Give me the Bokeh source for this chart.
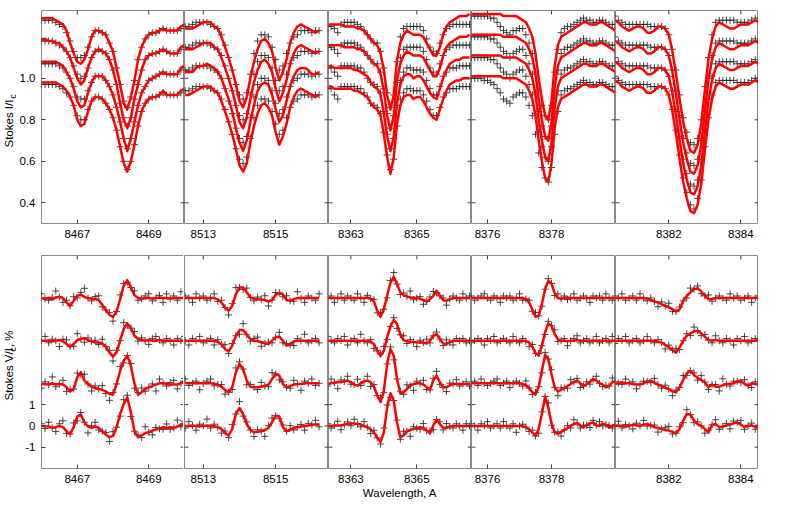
import numpy as np
from bokeh.plotting import figure
from bokeh.models import Range1d, FixedTicker, LinearAxis
from bokeh.core.properties import value
from bokeh.layouts import gridplot
from bokeh.embed import file_html
from bokeh.resources import INLINE

# ---------------- data (index 0 = lowest profile in each panel) ----------------
WL_START = [8466.0, 8512.5, 8362.3, 8375.5, 8380.5]
WL_STEP = 0.1
X_RANGES = [(8466.0, 8470.0), (8512.48, 8516.46), (8362.32, 8366.66), (8375.5, 8380.0), (8380.52, 8384.49)]
X_TICKS = [[8467, 8469], [8513, 8515], [8363, 8365], [8376, 8378], [8382, 8384]]
I_TICKS = [0.4, 0.6, 0.8, 1.0]
I_TICK_LABELS = {0.4: "0.4", 0.6: "0.6", 0.8: "0.8", 1.0: "1.0"}
V_TICKS = [-1, 0, 1]
V_TICK_LABELS = {-1: "-1", 0: "0", 1: "1"}
V_OFFSET = [0, 2, 4, 6]

I_MODEL_1 = [
 [0.98,0.98,0.98,0.98,0.98,0.97,0.96,0.94,0.91,0.87,0.80,0.77,0.78,0.84,0.89,0.91,0.91,0.90,0.88,0.85,0.81,0.75,0.67,0.59,0.55,0.60,0.68,0.77,0.84,0.88,0.90,0.91,0.91,0.92,0.94,0.92,0.92,0.92,0.92,0.94,0.95],
 [1.08,1.08,1.08,1.08,1.08,1.07,1.06,1.03,1.00,0.95,0.89,0.86,0.87,0.93,0.98,1.01,1.01,1.01,0.99,0.96,0.92,0.86,0.79,0.71,0.65,0.71,0.79,0.87,0.93,0.96,0.99,1.00,1.01,1.02,1.03,1.02,1.02,1.02,1.02,1.05,1.06],
 [1.19,1.19,1.18,1.18,1.17,1.17,1.15,1.13,1.10,1.05,1.00,0.97,0.99,1.05,1.10,1.13,1.14,1.13,1.12,1.09,1.04,0.97,0.88,0.80,0.76,0.81,0.90,0.97,1.04,1.09,1.11,1.12,1.12,1.13,1.14,1.13,1.12,1.12,1.12,1.15,1.16],
 [1.29,1.29,1.29,1.29,1.28,1.27,1.26,1.23,1.17,1.12,1.08,1.07,1.09,1.14,1.20,1.23,1.23,1.22,1.21,1.17,1.13,1.05,0.97,0.88,0.85,0.91,0.99,1.09,1.15,1.19,1.21,1.22,1.22,1.23,1.24,1.23,1.23,1.23,1.23,1.25,1.26]]
I_OBS_1 = [
 [0.97,0.97,0.97,0.97,0.97,0.96,0.95,0.93,0.91,0.87,0.82,0.80,0.80,0.85,0.89,0.91,0.91,0.90,0.88,0.85,0.81,0.75,0.67,0.60,0.56,0.60,0.68,0.77,0.84,0.88,0.90,0.91,0.91,0.92,0.93,0.92,0.92,0.92,0.92,0.93,0.94],
 [1.07,1.07,1.07,1.07,1.07,1.06,1.05,1.03,1.00,0.96,0.91,0.90,0.90,0.94,0.98,1.01,1.01,1.01,0.99,0.96,0.92,0.86,0.79,0.71,0.66,0.71,0.79,0.87,0.93,0.96,0.99,1.00,1.01,1.02,1.03,1.02,1.02,1.02,1.02,1.04,1.05],
 [1.18,1.18,1.18,1.18,1.17,1.16,1.15,1.13,1.10,1.06,1.02,1.00,1.01,1.05,1.10,1.13,1.14,1.13,1.12,1.09,1.04,0.97,0.88,0.81,0.77,0.81,0.90,0.97,1.04,1.09,1.11,1.12,1.12,1.13,1.14,1.13,1.12,1.12,1.12,1.14,1.15],
 [1.28,1.28,1.28,1.28,1.27,1.26,1.25,1.22,1.18,1.13,1.10,1.10,1.11,1.15,1.20,1.23,1.23,1.22,1.21,1.17,1.13,1.05,0.97,0.89,0.86,0.91,0.99,1.09,1.15,1.19,1.21,1.22,1.22,1.23,1.24,1.23,1.23,1.23,1.23,1.24,1.25]]

I_MODEL_2 = [
 [0.92,0.92,0.93,0.94,0.95,0.96,0.96,0.96,0.94,0.93,0.89,0.84,0.79,0.73,0.66,0.58,0.55,0.59,0.69,0.77,0.83,0.87,0.88,0.86,0.82,0.74,0.68,0.72,0.78,0.86,0.91,0.94,0.95,0.94,0.93,0.92,0.91,0.92],
 [1.03,1.03,1.03,1.05,1.06,1.06,1.07,1.06,1.05,1.03,1.00,0.95,0.90,0.84,0.76,0.69,0.65,0.70,0.79,0.87,0.94,0.97,0.98,0.97,0.92,0.85,0.79,0.82,0.89,0.96,1.01,1.04,1.05,1.05,1.04,1.02,1.02,1.03],
 [1.14,1.14,1.14,1.15,1.16,1.17,1.17,1.17,1.15,1.14,1.10,1.05,1.00,0.94,0.87,0.79,0.76,0.81,0.90,0.98,1.04,1.08,1.09,1.07,1.03,0.95,0.89,0.93,0.99,1.07,1.12,1.15,1.16,1.15,1.14,1.13,1.12,1.13],
 [1.24,1.24,1.24,1.25,1.26,1.27,1.27,1.27,1.25,1.24,1.20,1.15,1.10,1.04,0.97,0.89,0.86,0.91,1.00,1.08,1.14,1.18,1.19,1.17,1.13,1.05,0.99,1.03,1.09,1.17,1.22,1.25,1.26,1.25,1.24,1.23,1.22,1.23]]
I_OBS_2 = [
 [0.94,0.94,0.95,0.96,0.96,0.96,0.96,0.95,0.94,0.93,0.90,0.85,0.79,0.73,0.66,0.61,0.59,0.62,0.71,0.81,0.87,0.90,0.90,0.89,0.84,0.78,0.73,0.75,0.81,0.86,0.89,0.90,0.92,0.92,0.92,0.91,0.92,0.92],
 [1.04,1.04,1.05,1.06,1.06,1.06,1.06,1.05,1.04,1.03,1.00,0.95,0.89,0.83,0.76,0.71,0.69,0.72,0.81,0.91,0.97,1.00,1.00,0.99,0.94,0.88,0.83,0.85,0.91,0.96,0.99,1.00,1.02,1.02,1.02,1.01,1.02,1.02],
 [1.15,1.15,1.16,1.17,1.17,1.17,1.17,1.16,1.15,1.14,1.11,1.06,1.00,0.94,0.87,0.82,0.80,0.83,0.92,1.02,1.08,1.11,1.11,1.10,1.05,0.99,0.94,0.96,1.02,1.07,1.10,1.11,1.13,1.13,1.13,1.12,1.13,1.13],
 [1.25,1.25,1.26,1.27,1.27,1.27,1.27,1.26,1.25,1.24,1.21,1.16,1.10,1.04,0.97,0.92,0.90,0.93,1.02,1.12,1.18,1.21,1.21,1.20,1.15,1.09,1.04,1.06,1.12,1.17,1.20,1.21,1.23,1.23,1.23,1.22,1.23,1.23]]

I_MODEL_3 = [
 [0.96,0.96,0.95,0.95,0.95,0.95,0.95,0.95,0.94,0.94,0.93,0.92,0.91,0.88,0.86,0.85,0.82,0.73,0.62,0.54,0.62,0.78,0.87,0.91,0.92,0.92,0.90,0.91,0.91,0.89,0.86,0.83,0.81,0.80,0.85,0.90,0.94,0.97,0.98,0.99,0.99,1.00,1.00,1.00],
 [1.06,1.06,1.05,1.05,1.05,1.05,1.05,1.05,1.04,1.04,1.03,1.02,1.01,0.98,0.96,0.95,0.92,0.83,0.72,0.65,0.72,0.88,0.97,1.01,1.02,1.02,1.00,1.01,1.01,0.99,0.96,0.93,0.91,0.90,0.95,1.00,1.04,1.07,1.08,1.09,1.09,1.10,1.10,1.10],
 [1.16,1.16,1.16,1.16,1.16,1.15,1.15,1.15,1.15,1.14,1.14,1.13,1.11,1.09,1.07,1.06,1.02,0.94,0.82,0.75,0.82,0.99,1.07,1.11,1.13,1.12,1.11,1.11,1.11,1.10,1.07,1.04,1.01,1.01,1.05,1.11,1.15,1.17,1.18,1.19,1.20,1.20,1.20,1.21],
 [1.26,1.26,1.26,1.26,1.26,1.25,1.25,1.25,1.25,1.24,1.24,1.23,1.21,1.19,1.17,1.16,1.12,1.04,0.92,0.85,0.92,1.09,1.17,1.21,1.23,1.22,1.21,1.21,1.21,1.20,1.17,1.14,1.11,1.11,1.15,1.21,1.25,1.27,1.28,1.29,1.30,1.30,1.30,1.31]]
I_OBS_3 = [
 [0.95,0.95,0.92,0.90,0.96,0.96,0.96,0.96,0.96,0.95,0.95,0.93,0.91,0.88,0.87,0.86,0.83,0.74,0.63,0.56,0.61,0.77,0.90,0.93,0.95,0.95,0.94,0.94,0.94,0.92,0.89,0.85,0.82,0.82,0.86,0.91,0.93,0.95,0.95,0.95,0.96,0.96,0.96,0.96],
 [1.05,1.05,1.03,1.01,1.06,1.06,1.06,1.06,1.06,1.05,1.05,1.03,1.00,0.98,0.97,0.96,0.93,0.84,0.73,0.66,0.71,0.87,0.99,1.03,1.05,1.05,1.04,1.04,1.04,1.03,0.99,0.95,0.92,0.92,0.96,1.01,1.03,1.05,1.05,1.05,1.06,1.06,1.06,1.06],
 [1.15,1.15,1.14,1.12,1.16,1.17,1.17,1.17,1.17,1.16,1.15,1.13,1.11,1.09,1.07,1.07,1.03,0.95,0.83,0.76,0.82,0.98,1.10,1.14,1.15,1.15,1.15,1.15,1.15,1.13,1.09,1.05,1.03,1.02,1.07,1.11,1.14,1.15,1.16,1.16,1.16,1.16,1.16,1.16],
 [1.25,1.25,1.24,1.22,1.26,1.27,1.27,1.27,1.27,1.26,1.25,1.23,1.21,1.19,1.17,1.17,1.13,1.05,0.93,0.86,0.92,1.08,1.20,1.24,1.25,1.25,1.25,1.25,1.25,1.23,1.19,1.15,1.13,1.12,1.17,1.21,1.24,1.25,1.26,1.26,1.26,1.26,1.26,1.26]]

I_MODEL_4 = [
 [1.01,1.01,1.01,1.01,1.01,1.01,1.01,1.01,1.01,1.01,1.00,1.00,1.00,1.00,1.00,0.99,0.98,0.97,0.94,0.90,0.82,0.70,0.60,0.52,0.50,0.59,0.76,0.86,0.90,0.91,0.92,0.93,0.94,0.95,0.96,0.97,0.97,0.96,0.96,0.96,0.97,0.97,0.96,0.95,0.94,0.93],
 [1.11,1.11,1.11,1.11,1.11,1.11,1.11,1.11,1.11,1.11,1.10,1.10,1.10,1.10,1.10,1.09,1.08,1.07,1.04,1.00,0.92,0.80,0.70,0.62,0.60,0.69,0.86,0.96,1.00,1.01,1.02,1.03,1.04,1.05,1.06,1.07,1.07,1.06,1.06,1.06,1.07,1.07,1.06,1.05,1.04,1.03],
 [1.21,1.21,1.21,1.21,1.21,1.21,1.21,1.21,1.21,1.21,1.20,1.20,1.20,1.20,1.20,1.19,1.18,1.17,1.14,1.10,1.02,0.90,0.80,0.72,0.70,0.79,0.96,1.06,1.10,1.11,1.12,1.13,1.14,1.15,1.16,1.17,1.17,1.16,1.16,1.16,1.17,1.17,1.16,1.15,1.14,1.13],
 [1.31,1.31,1.31,1.31,1.31,1.31,1.31,1.31,1.31,1.31,1.30,1.30,1.30,1.30,1.30,1.29,1.28,1.27,1.24,1.20,1.12,1.00,0.90,0.82,0.80,0.89,1.06,1.16,1.20,1.21,1.22,1.23,1.24,1.25,1.26,1.27,1.27,1.26,1.26,1.26,1.27,1.27,1.26,1.25,1.24,1.23]]
I_OBS_4 = [
 [1.00,1.00,1.00,1.00,0.99,0.99,0.98,0.97,0.95,0.93,0.90,0.89,0.88,0.91,0.92,0.93,0.93,0.91,0.87,0.82,0.73,0.64,0.57,0.52,0.50,0.57,0.73,0.84,0.92,0.94,0.95,0.95,0.96,0.97,0.98,0.99,0.98,0.98,0.97,0.97,0.98,0.98,0.97,0.96,0.96,0.96],
 [1.10,1.10,1.10,1.10,1.10,1.10,1.09,1.09,1.07,1.05,1.03,1.02,1.00,1.02,1.03,1.04,1.04,1.01,0.97,0.92,0.83,0.74,0.67,0.62,0.60,0.67,0.83,0.94,1.02,1.04,1.05,1.05,1.06,1.07,1.08,1.09,1.08,1.08,1.07,1.07,1.08,1.08,1.07,1.06,1.06,1.06],
 [1.20,1.20,1.20,1.20,1.20,1.20,1.19,1.19,1.17,1.15,1.13,1.12,1.10,1.12,1.13,1.14,1.14,1.11,1.07,1.02,0.93,0.84,0.77,0.72,0.71,0.77,0.93,1.04,1.12,1.14,1.15,1.15,1.16,1.17,1.18,1.19,1.18,1.18,1.17,1.17,1.18,1.18,1.17,1.16,1.16,1.16],
 [1.30,1.30,1.30,1.30,1.30,1.30,1.29,1.29,1.27,1.25,1.23,1.22,1.21,1.23,1.23,1.24,1.24,1.21,1.17,1.12,1.03,0.94,0.87,0.82,0.80,0.87,1.03,1.14,1.22,1.24,1.25,1.25,1.26,1.27,1.28,1.29,1.28,1.28,1.27,1.27,1.28,1.28,1.27,1.26,1.26,1.26]]

I_MODEL_5 = [
 [0.99,0.98,0.96,0.95,0.94,0.95,0.96,0.96,0.95,0.93,0.93,0.94,0.96,0.96,0.95,0.92,0.84,0.73,0.61,0.50,0.42,0.36,0.35,0.39,0.49,0.65,0.80,0.90,0.96,0.98,0.97,0.96,0.95,0.95,0.96,0.97,0.97,0.97,0.98,0.99,0.98],
 [1.08,1.07,1.05,1.04,1.03,1.04,1.05,1.05,1.04,1.02,1.02,1.03,1.05,1.05,1.04,1.01,0.93,0.82,0.70,0.59,0.51,0.45,0.44,0.48,0.58,0.74,0.89,0.99,1.05,1.07,1.06,1.05,1.04,1.04,1.05,1.06,1.06,1.06,1.07,1.08,1.07],
 [1.18,1.17,1.15,1.14,1.13,1.14,1.15,1.15,1.14,1.12,1.12,1.13,1.15,1.15,1.14,1.11,1.03,0.92,0.80,0.69,0.61,0.55,0.54,0.58,0.68,0.84,0.99,1.09,1.15,1.17,1.16,1.15,1.14,1.14,1.15,1.16,1.16,1.16,1.17,1.18,1.17],
 [1.28,1.27,1.25,1.24,1.23,1.24,1.25,1.25,1.24,1.22,1.22,1.23,1.25,1.25,1.24,1.21,1.13,1.02,0.90,0.79,0.71,0.65,0.64,0.68,0.78,0.94,1.09,1.19,1.25,1.27,1.26,1.25,1.24,1.24,1.25,1.26,1.26,1.26,1.27,1.28,1.27]]
I_OBS_5 = [
 [1.01,0.99,0.98,0.97,0.97,0.97,0.97,0.97,0.97,0.97,0.96,0.96,0.96,0.96,0.95,0.92,0.85,0.75,0.63,0.52,0.45,0.39,0.37,0.42,0.51,0.67,0.81,0.92,0.98,0.99,0.99,0.99,0.99,0.99,0.98,0.98,0.98,0.98,0.99,1.00,0.99],
 [1.10,1.08,1.07,1.06,1.06,1.06,1.06,1.06,1.06,1.06,1.05,1.05,1.05,1.05,1.04,1.01,0.94,0.84,0.72,0.61,0.54,0.49,0.48,0.51,0.60,0.76,0.90,1.01,1.07,1.08,1.08,1.08,1.08,1.08,1.07,1.07,1.07,1.07,1.08,1.09,1.08],
 [1.20,1.18,1.17,1.16,1.16,1.16,1.16,1.16,1.16,1.16,1.15,1.15,1.15,1.15,1.14,1.11,1.04,0.94,0.82,0.71,0.64,0.59,0.58,0.61,0.70,0.86,1.00,1.11,1.17,1.18,1.18,1.18,1.18,1.18,1.17,1.17,1.17,1.17,1.18,1.19,1.18],
 [1.30,1.28,1.27,1.26,1.26,1.26,1.26,1.26,1.26,1.26,1.25,1.25,1.25,1.25,1.24,1.21,1.14,1.04,0.92,0.81,0.74,0.69,0.68,0.71,0.80,0.96,1.10,1.21,1.27,1.28,1.28,1.28,1.28,1.28,1.27,1.27,1.27,1.27,1.28,1.29,1.28]]

V_MODEL_1 = [
 [0,-0.02,-0.03,-0.09,-0.06,0,-0.06,-0.25,-0.38,-0.06,0.44,0.53,0.17,-0.03,-0.09,-0.03,-0.09,-0.25,-0.41,-0.53,-0.47,-0.06,0.56,1.03,1.34,0.64,-0.25,-0.53,-0.45,-0.34,-0.30,-0.22,-0.17,-0.14,-0.06,-0.11,-0.06,-0.09,-0.03,0.06,0.12],
 [-0.03,-0.03,-0.06,0,-0.06,-0.03,-0.06,-0.19,-0.38,-0.27,0.28,0.52,0.13,-0.03,-0.16,-0.22,-0.27,-0.31,-0.38,-0.50,-0.53,-0.03,0.59,1.06,1.30,0.83,-0.03,-0.53,-0.42,-0.27,-0.19,-0.13,-0.06,0,0,-0.03,-0.06,-0.06,-0.06,0,0.13],
 [0,0,0,-0.03,0,0.03,-0.03,-0.16,-0.28,-0.16,0.03,0.08,0.13,0.03,-0.03,-0.08,-0.08,-0.13,-0.28,-0.55,-0.75,-0.55,0,0.55,0.81,0.59,0.23,0.08,0.03,0,0.03,0,0,0.03,0,0,0,0,0,0,0],
 [0,-0.03,0,-0.06,0.03,0.06,0,-0.20,-0.36,-0.13,0.11,0.16,0.06,0,-0.03,-0.03,-0.09,-0.31,-0.56,-0.78,-0.88,-0.63,-0.05,0.58,0.84,0.50,0.14,0,-0.03,0,0,-0.03,0,0.03,0,0,-0.03,0,0,0,0]]
V_RESID_1 = [
 [0.1,-0.1,0.2,0,-0.2,0.1,0.3,-0.1,0,0.2,-0.2,0.1,0,-0.3,0.1,0.2,-0.1,0,0.1,-0.2,0.2,0,-0.1,0.2,0.1,-0.2,0,0.1,-0.1,0.3,0,-0.2,0.1,0,-0.1,0.2,-0.1,0,0.3,-0.1,0.1],
 [-0.2,0.1,0,0.3,-0.1,0,0.2,-0.2,0.1,0,0.2,-0.1,0.3,0,-0.2,0.1,0,0.2,-0.1,-0.3,0.1,0,0.2,-0.1,0,0.1,-0.2,0.1,0.2,-0.1,0,0.1,-0.3,0.2,0,-0.1,0.1,0.2,-0.2,0,0.1],
 [0,0.2,-0.1,0.1,0,-0.3,0.1,0.2,0,-0.1,0.3,0,-0.2,0.1,0,0.1,-0.1,0.2,0,0.1,-0.2,0.1,0,0.3,-0.1,0,0.2,-0.1,0.1,0,-0.2,0.1,0.2,0,-0.1,0.1,0,-0.2,0.1,0,0.2],
 [0.2,0,-0.1,0.1,0.3,0,-0.2,0.1,0,0.2,-0.1,0.1,0.4,0,-0.1,0.1,0.2,-0.1,0,0.1,-0.2,0,0.2,0.1,-0.1,0,0.2,-0.1,0,0.1,0.2,-0.1,0,0.1,-0.2,0.2,0,0.1,-0.1,0.3,0]]

V_MODEL_2 = [
 [0,0,0.02,0,-0.02,0,0.02,0,-0.02,-0.06,-0.14,-0.34,-0.45,-0.14,0.56,0.84,0.56,0.09,-0.19,-0.30,-0.28,-0.25,-0.19,-0.09,0.17,0.48,0.44,-0.06,-0.25,-0.19,-0.09,-0.06,-0.03,0,0.02,0.05,0.06,0.06],
 [0,0,0,0,0,0,0,0,-0.02,-0.06,-0.16,-0.31,-0.42,-0.19,0.52,0.91,0.67,0.13,-0.16,-0.19,-0.19,-0.16,-0.13,-0.06,0.20,0.44,0.36,-0.03,-0.19,-0.13,-0.06,-0.03,-0.03,0,0,0,0,0],
 [0,0,0,0,0,0,0,0,0,-0.05,-0.16,-0.39,-0.50,-0.23,0.23,0.50,0.50,0.28,0.08,0,-0.03,-0.06,-0.13,-0.16,0,0.16,0.19,0,-0.23,-0.19,-0.03,0,0,0,0,0,0,0],
 [0,0,0,0,0,0,0,0,0,-0.06,-0.20,-0.44,-0.59,-0.36,0.19,0.50,0.50,0.27,0.03,-0.03,-0.05,-0.06,-0.09,-0.17,-0.09,0.16,0.25,0.16,-0.09,-0.13,-0.05,0,0,0,0,0,0,0]]
V_RESID_2 = [
 [-0.1,0.2,0,-0.2,0.1,0,0.3,-0.1,0.1,0,-0.2,0.1,-0.1,0.2,0,0.3,-0.1,0.1,0,-0.2,0.1,0,-0.3,0.1,0.2,0,-0.1,0.1,0,0.2,-0.1,0,0.1,-0.2,0.1,0,0.2,-0.1],
 [0.2,-0.1,0,0.1,-0.3,0,0.1,0.2,-0.1,0,0.1,-0.2,0,-0.1,0.2,0.1,0,-0.2,0.1,0,-0.1,0.2,0,-0.1,0.3,0,-0.2,0.1,0,-0.1,0.2,0,-0.3,0.1,0,0.2,-0.1,0],
 [0,-0.2,0.1,0,0.2,-0.1,0,0.1,-0.2,0.1,0,0.2,-0.1,0.1,0,-0.2,0.3,0,-0.1,0.1,0.2,-0.2,0,0.1,-0.1,0,0.2,-0.1,0.1,0,-0.2,0.1,0,0.3,-0.1,0,0.1,-0.1],
 [0.1,0,-0.2,0.2,0,0.1,-0.1,0,0.2,-0.1,0.1,0,-0.2,0.1,0.3,0,-0.1,0.2,0,-0.1,0.1,0,0.2,-0.2,0,0.1,0,-0.1,0.2,0,-0.1,0.3,0,-0.2,0.1,0,-0.1,0.2]]

V_MODEL_3 = [
 [0,0,0.02,0.02,0.02,0.06,0.09,0.11,0.11,0.09,0.06,0,-0.06,-0.16,-0.31,-0.56,-0.75,-0.30,0.88,1.53,1.19,0.17,-0.53,-0.45,-0.25,-0.19,-0.14,-0.11,-0.06,-0.09,-0.22,-0.34,0.02,0.30,0.09,-0.09,-0.09,-0.03,0,0,0,0,0,0],
 [-0.03,0,0.03,0.05,0.06,0.09,0.13,0.06,-0.06,-0.11,0,0.09,0.13,0.05,-0.16,-0.58,-0.88,-0.34,0.91,1.61,1.30,0.20,-0.47,-0.42,-0.27,-0.11,-0.03,0,0,-0.06,-0.19,-0.31,0.13,0.36,0.05,-0.19,-0.19,-0.09,-0.03,-0.03,-0.03,-0.03,-0.03,-0.03],
 [0,0,0,0,0,0,0,0,0,0,0,0,0,-0.05,-0.16,-0.47,-0.72,-0.47,0.16,0.66,0.98,0.78,0.28,0.03,-0.03,-0.05,-0.06,-0.08,-0.08,-0.09,-0.13,0,0.23,0.31,0.08,-0.13,-0.16,-0.08,0,0,0,0,0,0],
 [0,0,0,0,0,0,0,0,0,0,0,0,0.03,-0.03,-0.16,-0.59,-0.88,-0.52,0.11,0.73,1.00,0.66,0.27,0.14,0.08,0.03,0.02,0,-0.03,-0.09,-0.16,-0.05,0.11,0.34,0.11,-0.09,-0.13,-0.05,0,0,0,0,0,0]]
V_RESID_3 = [
 [0.1,-0.1,0,0.2,-0.2,0,0.1,-0.1,0.2,0,-0.1,0.2,0,-0.2,0.1,0,-0.1,0.2,0.1,-0.2,0,0.1,-0.1,0.2,0,-0.3,0.1,0,-0.1,0.2,0,0.1,-0.2,0,0.1,-0.1,0.2,0,-0.1,0.1,0,-0.2,0.1,0],
 [-0.1,0.2,0,-0.3,0.1,0,0.2,-0.1,0,0.3,-0.1,0,0.2,-0.2,0.1,0,0.2,-0.1,0,0.1,-0.2,0,0.1,-0.1,0.2,0,-0.3,0.1,0,0.2,-0.1,0,0.1,0.2,-0.1,0,-0.2,0.1,0,0.2,-0.1,0,0.1,-0.1],
 [0.2,0,-0.1,0.1,0,0.2,-0.2,0,0.1,-0.1,0.3,0,-0.1,0.1,-0.2,0,0.1,0.2,-0.1,0,0.1,-0.2,0,0.2,-0.1,0.1,0,-0.2,0.1,0,0.2,-0.1,0,0.1,0,-0.1,0.2,0,-0.2,0.1,0,0.1,-0.1,0],
 [0,0.1,-0.2,0,0.2,-0.1,0.1,0,-0.1,0.2,0,-0.2,0.1,0,0.1,-0.1,0.2,0,-0.1,0.1,0.2,0,-0.1,0.1,0,0.3,-0.1,0,0.1,-0.2,0,0.1,0.2,-0.1,0,0.1,-0.2,0,0.1,0,-0.1,0.2,0,0.1]]

V_MODEL_4 = [
 [0,0,0,0,0,0,0,0,0,0,0,0,0,0,0,0,-0.02,-0.06,-0.16,-0.30,-0.47,-0.14,0.56,1.38,0.88,0.13,-0.30,-0.38,-0.28,-0.19,-0.09,0,0.09,0.13,0,-0.06,0.03,0.13,0.16,0.03,0,0.10,0.06,-0.08,0,0.06],
 [0,0,0,0,0,0,0,0,0,0,0,0,0,0,0,0,-0.03,-0.09,-0.22,-0.42,-0.53,-0.16,0.59,1.34,1.14,0.44,-0.19,-0.38,-0.31,-0.22,-0.13,-0.03,0.06,0.13,0,-0.13,-0.03,0.06,0.19,0.13,0,-0.06,-0.19,-0.13,0.05,0.13],
 [0,0,0,0,0,0,0,0,0,0,0,0,0,0,0,0,0,-0.03,-0.08,-0.28,-0.59,-0.70,-0.23,0.39,0.81,0.70,0.31,0.06,0,0,-0.03,0,0,0.03,0,0,0,0,0,0,0,0,0,0,0,0],
 [0,0,0,0,0,0,0,0,0,0,0,0,0,0,0,0,0,-0.05,-0.20,-0.52,-0.88,-0.83,-0.28,0.42,0.81,0.69,0.22,0,-0.03,0,0.03,0,0,0,0,0,0,0,0,0,0,0,0,0,0,0]]
V_RESID_4 = [
 [0.1,0,-0.2,0.1,0,0.2,-0.1,0,0.1,-0.1,0.2,0,-0.1,0.1,-0.3,0,0.1,0,-0.1,0.1,0,-0.2,0.1,0,0.2,-0.1,0,0.1,-0.2,0,0.1,-0.1,0.2,0,-0.1,0.1,0,-0.2,0.1,0,0.2,-0.1,0,0.1,-0.1,0],
 [0,0.1,-0.1,0.2,0,-0.1,0,0.1,0.2,-0.1,0,0.1,-0.2,0,0.1,0,-0.1,0.2,0,-0.1,0.1,0,-0.1,0.1,0,0.2,0,-0.2,0.1,0,-0.1,0.2,0,0.1,-0.2,0,0.1,-0.1,0,0.2,0,-0.1,0.1,0,0.2,-0.1],
 [-0.1,0,0.1,0,-0.2,0.1,0,0.2,-0.1,0,0.1,0,-0.1,0.2,0,-0.1,0.1,0,-0.2,0.1,0,0.1,0,-0.1,0.1,0,0.2,-0.1,0,0.1,-0.2,0,0.1,0.2,-0.1,0,0.1,-0.1,0,0.2,-0.1,0,0.1,-0.1,0.2,0],
 [0.1,-0.1,0,0.1,0.2,0,-0.1,0.1,0,-0.2,0.1,0,0.1,-0.1,0,0.2,-0.1,0,0.1,-0.1,0.2,0,-0.1,0,0.1,0,-0.1,0.2,0,0.1,-0.1,0,0.2,-0.1,0,0.1,0,-0.2,0.1,0,0.1,-0.1,0.2,0,-0.1,0.1]]

V_MODEL_5 = [
 [0,0.02,0,-0.03,0,0.06,0.03,0,0.06,0.09,0.02,-0.06,-0.09,-0.14,-0.19,-0.22,-0.28,-0.34,-0.14,0.25,0.56,0.53,0.25,0.09,0,-0.14,-0.30,0.05,0.09,-0.06,-0.03,0.02,0.06,0.13,0.16,0.06,-0.06,0,0.03,-0.06,-0.06],
 [-0.03,0,0.05,0,0,-0.03,-0.06,-0.06,0,0.09,0.13,0.03,-0.06,-0.13,-0.19,-0.27,-0.38,-0.42,-0.19,0.16,0.47,0.59,0.39,0.25,0.16,0.05,-0.19,-0.06,-0.16,-0.16,-0.09,-0.03,-0.03,0,0.09,0.13,-0.03,-0.11,0,-0.03,-0.06],
 [-0.03,0,0,0,0,0,0,0,0,0,0,0,-0.05,-0.09,-0.19,-0.31,-0.44,-0.56,-0.31,0,0.23,0.34,0.44,0.47,0.34,0.19,0.03,0,0.03,0,0,0,0,0,0,0,0,0,0,0,0.03],
 [0,0,0,0,0,0,0,0,0,-0.03,-0.09,-0.16,-0.20,-0.28,-0.36,-0.44,-0.52,-0.63,-0.52,-0.13,0.11,0.27,0.42,0.47,0.31,0.11,-0.05,-0.05,0,0,0,0,0,0,0,0,0,0,0,0,0]]
V_RESID_5 = [
 [0,0.2,-0.1,0.1,0,-0.2,0.1,0,0.2,-0.1,0,0.1,-0.2,0,0.1,0.2,-0.1,0,0.1,-0.1,0.2,0,-0.1,0.1,0,-0.2,0.1,0,0.2,-0.1,0,0.1,-0.2,0.1,0,0.2,-0.1,0,0.1,-0.1,0.1],
 [0.1,0,-0.1,0.2,0,0.1,-0.2,0,0.1,0,-0.1,0.2,0,-0.1,0.1,0,-0.2,0.1,0,0.2,-0.1,0,0.1,-0.1,0.2,0,-0.1,0,0.1,-0.2,0.3,0,-0.1,0.1,0,-0.1,0.2,0,-0.2,0.1,0],
 [-0.1,0.1,0,0.2,-0.1,0,0.1,-0.1,0,0.2,0,-0.1,0.1,0,-0.2,0.1,0,0.2,-0.1,0,0.1,-0.1,0.2,0,-0.1,0.1,0,-0.1,0.2,0,-0.1,0.1,0,-0.2,0.1,0,0.2,-0.1,0,0.1,0],
 [0.1,0,0.2,-0.1,0,0.1,-0.1,0.2,0,-0.1,0.1,0,-0.2,0.1,0,0.2,-0.1,0,0.1,0,-0.1,0.2,0,0.1,-0.1,0,0.2,-0.1,0,0.1,0,-0.1,0.2,0,0.1,-0.1,0,0.1,-0.2,0,0.1]]

I_MODEL = [I_MODEL_1, I_MODEL_2, I_MODEL_3, I_MODEL_4, I_MODEL_5]
I_OBS = [I_OBS_1, I_OBS_2, I_OBS_3, I_OBS_4, I_OBS_5]
V_MODEL = [V_MODEL_1, V_MODEL_2, V_MODEL_3, V_MODEL_4, V_MODEL_5]
V_RESID = [V_RESID_1, V_RESID_2, V_RESID_3, V_RESID_4, V_RESID_5]

# y-axis titles: pieces of text (main text, subscript c, trailing text)
Y_TITLES = [
    [("Stokes I/I", "main"), ("c", "sub")],
    [("Stokes V/I", "main"), ("c", "sub"), (", %", "main")],
]

# ---------------- styling ----------------
FONT = "Liberation Sans"
FS = "11.5px"
FS_SUB = "8.5px"
FRAME_W = [143, 144, 143, 144, 143]
FRAME_H = 213
Y_RANGES = [(0.30, 1.327), (-2.0, 8.0)]
FRAME_COLOR = "#8a8a8a"
TICK_COLOR = "#444444"
RED = "#ff0000"
CROSS = "#262626"
TITLE_W = 16          # width of the strip holding the vertical y titles
AXIS_BORDER = 24      # room for tick labels in first panel
BORDER_TOP = [10, 2]
BORDER_BOTTOM = [30, 45]


def add_label_axis(p, side, ticks, overrides=None, label=None):
    ax = LinearAxis(ticker=FixedTicker(ticks=ticks))
    ax.axis_line_color = None
    ax.major_tick_in = 4
    ax.major_tick_out = 0
    ax.minor_tick_in = 0
    ax.minor_tick_out = 0
    ax.major_tick_line_color = TICK_COLOR
    ax.major_label_text_font = FONT
    ax.major_label_text_font_size = FS
    ax.major_label_text_color = "black"
    ax.major_label_standoff = 6
    if overrides:
        ax.major_label_overrides = overrides
    if label:
        ax.axis_label = label
        ax.axis_label_text_font = FONT
        ax.axis_label_text_font_size = FS
        ax.axis_label_text_font_style = "normal"
        ax.axis_label_text_color = "black"
        ax.axis_label_standoff = 1
    p.add_layout(ax, side)


def add_inner_ticks(p, i, row, yt, left_has_axis):
    x0, x1 = X_RANGES[i]
    y0, y1 = Y_RANGES[row]
    p.scatter(X_TICKS[i], [y1] * len(X_TICKS[i]), marker="dash", angle=np.pi / 2,
              size=8, line_color=TICK_COLOR, line_width=1)
    xs = ([] if left_has_axis else [x0] * len(yt)) + [x1] * len(yt)
    ys = ([] if left_has_axis else list(yt)) + list(yt)
    p.scatter(xs, ys, marker="dash", size=8, line_color=TICK_COLOR, line_width=1)


def make_title_strip(row):
    # a narrow blank strip whose own 0..W / 0..H pixel ranges place the vertical title
    t = figure(frame_width=TITLE_W, frame_height=FRAME_H,
               x_range=Range1d(0, TITLE_W), y_range=Range1d(0, FRAME_H),
               output_backend="svg", toolbar_location=None,
               x_axis_location=None, y_axis_location=None,
               min_border_left=0, min_border_right=0,
               min_border_top=BORDER_TOP[row], min_border_bottom=BORDER_BOTTOM[row])
    t.grid.visible = False
    t.outline_line_color = None
    t.background_fill_color = "white"
    t.border_fill_color = "white"
    start = 76 if row == 0 else 68
    pos = start
    for txt, kind in Y_TITLES[row]:
        if kind == "main":
            t.text(x=[8.5], y=[pos], text=[txt], angle=np.pi / 2, text_align="left",
                   text_baseline="middle", text_font=value(FONT), text_font_size=value(FS),
                   text_color="black")
            pos += 0.52 * 11.5 * len(txt) * 0.81
        else:
            pos += 0.5
            t.text(x=[12.0], y=[pos], text=[txt], angle=np.pi / 2, text_align="left",
                   text_baseline="middle", text_font=value(FONT), text_font_size=value(FS_SUB),
                   text_color="black")
            pos += 4.5
    return t


def make_panel(row, i):
    p = figure(
        frame_width=FRAME_W[i], frame_height=FRAME_H,
        x_range=Range1d(*X_RANGES[i]), y_range=Range1d(*Y_RANGES[row]),
        output_backend="svg", toolbar_location=None,
        x_axis_location=None, y_axis_location=None,
        min_border_left=AXIS_BORDER if i == 0 else 0, min_border_right=0,
        min_border_top=BORDER_TOP[row], min_border_bottom=BORDER_BOTTOM[row],
    )
    p.grid.visible = False
    p.outline_line_color = FRAME_COLOR
    p.outline_line_width = 1
    p.background_fill_color = "white"
    p.border_fill_color = "white"

    yt = I_TICKS if row == 0 else V_TICKS
    ov = I_TICK_LABELS if row == 0 else V_TICK_LABELS
    add_label_axis(p, "below", X_TICKS[i],
                   label="Wavelength, A" if (row == 1 and i == 2) else None)
    if i == 0:
        add_label_axis(p, "left", yt, overrides=ov)
    add_inner_ticks(p, i, row, yt, left_has_axis=(i == 0))

    if row == 0:
        for c in range(4):
            obs = I_OBS[i][c]
            wl = WL_START[i] + WL_STEP * np.arange(len(obs))
            p.scatter(wl, obs, marker="cross", size=7, line_color=CROSS, line_width=1, line_alpha=0.85)
        for c in range(4):
            mod = I_MODEL[i][c]
            wl = WL_START[i] + WL_STEP * np.arange(len(mod))
            p.line(wl, mod, line_color=RED, line_width=2.5, line_join="round")
    else:
        for c in range(4):
            m = np.array(V_MODEL[i][c], dtype=float)
            r = np.array(V_RESID[i][c], dtype=float)
            n = min(len(m), len(r))
            wl = WL_START[i] + WL_STEP * np.arange(n)
            obs = m[:n] + r[:n] + V_OFFSET[c]
            p.scatter(wl, obs, marker="cross", size=7, line_color=CROSS, line_width=1, line_alpha=0.85)
        for c in range(4):
            m = np.array(V_MODEL[i][c], dtype=float)
            wl = WL_START[i] + WL_STEP * np.arange(len(m))
            p.line(wl, m + V_OFFSET[c], line_color=RED, line_width=2.5, line_join="round")
    return p


rows = [[make_title_strip(r)] + [make_panel(r, i) for i in range(5)] for r in range(2)]
grid = gridplot(rows, toolbar_location=None)

open("out.html", "w").write(file_html(grid, INLINE))
